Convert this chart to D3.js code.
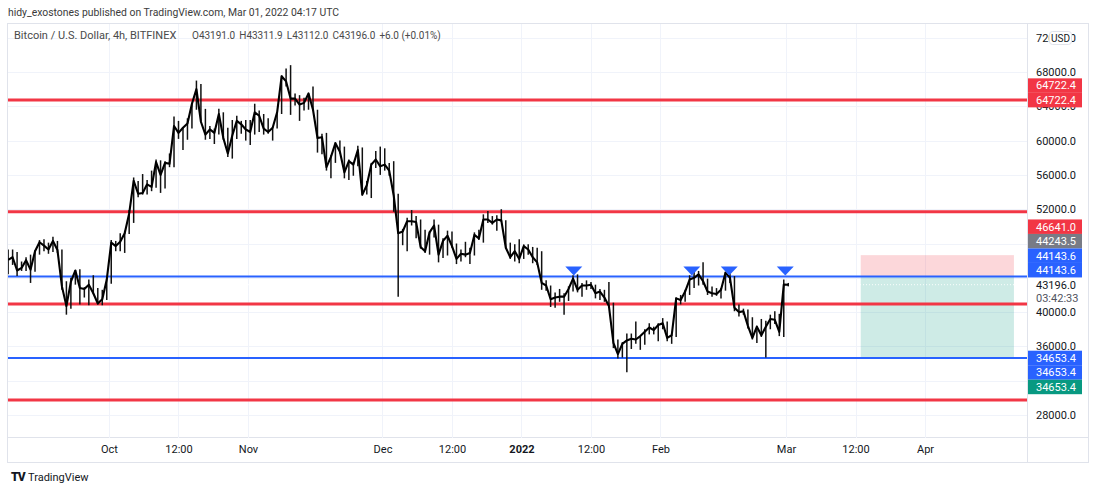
<!DOCTYPE html>
<html>
<head>
<meta charset="utf-8">
<script src="https://cdn.jsdelivr.net/npm/d3@7"></script>
<style>
body { margin: 0; background: #fff; }
text { font-family: Roboto, "Noto Sans", sans-serif; }
</style>
</head>
<body>
<div id="chart-area"></div>
<script>
var firstDay = "2021-09-08";

var dailyHigh = [
    // Sep 8 - 30
    47300,47300,47000,45900,46400,46700,47200,48400,48500,48100,48800,48300,47300,43600,44000,44900,45000,42900,43800,44300,42800,42600,44100,
    // Oct
    48400,48300,49200,49500,51900,55700,55300,56100,55400,56500,57800,57700,57600,58500,62800,62300,61600,62600,64400,67000,66600,63700,61700,61400,63700,63300,61500,62400,62900,62300,62400,
    // Nov
    62400,64300,63500,63100,62600,61600,63300,67600,68400,68800,65500,65300,65000,65500,66300,63600,60800,60900,58300,59800,60000,59300,57800,57500,59400,59200,55300,57400,58800,59300,
    // Dec
    59100,57400,57600,53800,49700,51000,51900,51200,50800,49600,49400,50800,50200,48600,49500,49400,48000,47300,48200,47500,49300,49600,51400,51800,51200,51300,52000,50700,48100,47900,48500,
    // Jan
    47900,47900,47600,47500,47100,43700,43100,42300,42700,42200,43000,44300,44400,43400,43700,43500,43200,42700,42600,43500,41100,36800,36500,37500,37500,38900,37200,38000,38700,38300,38700,
    // Feb
    39300,38900,37400,41700,42000,42600,44300,45000,44800,45800,43900,43000,42800,42800,44700,44600,44200,40900,40400,40300,39400,38400,39200,39000,39700,40100,39800,43800,
    // Mar 1
    43400
];

var dailyLow = [
    44400,45500,44200,44800,44800,43400,44700,46700,47100,46800,47000,46900,42600,39700,40400,43200,40900,41700,40800,42100,40900,40800,41400,
    43300,47100,47100,46900,49100,50400,53400,53700,53700,54100,54500,53900,54400,56900,56900,60200,58900,60100,61400,63600,62100,60100,60200,59600,60700,60100,58100,57900,60200,60800,60000,
    59500,60700,61000,60700,60800,60000,61400,63100,66300,63000,64100,62300,63500,63600,63500,58600,58400,56500,55600,57400,58500,55600,55400,55900,57000,53600,53700,53300,56800,56000,
    56500,55900,51700,41800,47800,47100,50100,48600,47400,46900,46700,48700,45800,46300,46600,47500,45600,45900,46400,45600,46600,48400,48100,50400,50200,49500,50500,47400,46200,45900,45700,
    46200,46700,45700,45500,42600,42500,40600,40500,41200,39700,41300,42400,42300,41800,42600,42700,41600,41400,41200,40600,35800,34600,34700,33000,35700,36300,35600,36200,37400,37400,36600,
    38000,36600,36300,37100,40900,41200,42000,42800,43100,43200,42000,41800,41900,41600,42500,43400,40100,39500,39700,38100,36800,36400,37100,34700,38000,38600,37200,37100,
    43000
];

var dailyClose = [
    46100,46400,44850,45150,46050,44950,47100,48150,47750,47300,48300,47250,43000,40700,43550,44850,42800,42700,43200,42200,41000,41500,43800,
    48100,47700,48200,49200,51500,55300,53800,53900,54900,54600,57500,56000,57400,57300,61700,60900,61500,62000,64300,66000,62200,60700,61300,60900,63100,60300,58500,60600,62300,61900,61300,
    61000,63300,62900,61400,61000,61500,63300,67500,66900,64900,64900,64200,64400,65500,63600,60300,60400,56900,58100,59700,58700,56300,57600,57200,58900,53700,54800,57200,57800,57000,
    57200,56500,53600,49200,49400,50600,50600,50500,47600,47100,49300,50100,46700,48300,48900,47700,46200,46800,46700,46900,49000,48600,50800,50800,50400,50800,50700,47500,46400,47100,46200,
    47700,47300,46400,45800,43400,43100,41500,41700,41800,41800,42700,43900,42600,43100,43100,43200,42200,42400,41700,40700,36400,35100,36300,36700,36900,36800,37200,37700,38200,37900,38500,
    38700,37000,37300,41600,41400,42400,43800,44000,44400,43600,42400,42200,42100,42600,44600,44000,40500,40000,40100,38400,37000,38300,37300,38300,39200,39100,37700,43200,
    43196
];

// drawn horizontal levels
var redLevels = [64722.4, 51700, 40950, 29750];
var blueLevels = [44143.6, 34653.4];

// blue down-triangle markers on the 44143.6 level
var signalDates = ["2022-01-12T16:00Z", "2022-02-08T00:00Z", "2022-02-16T08:00Z", "2022-02-28T20:00Z"];

// short position tool
var posEntry = 44143.6, posStop = 46641.0, posTarget = 34653.4;
var posStart = "2022-03-17T16:00Z", posEnd = "2022-04-20T20:00Z";
var crossPrice = 44243.5;
var countdown = "03:42:33";

// axes
var priceTicks = [28000, 32000, 36000, 40000, 44000, 48000, 52000, 56000, 60000, 64000, 68000, 72000];
var timeTicks = ["2021-10-01T00:00Z", "2021-10-16T12:00Z", "2021-11-01T00:00Z", "2021-12-01T00:00Z", "2021-12-16T12:00Z",
                 "2022-01-01T00:00Z", "2022-01-16T12:00Z", "2022-02-01T00:00Z", "2022-03-01T00:00Z", "2022-03-16T12:00Z", "2022-04-01T00:00Z"];
var timeLabels = ["Oct", "12:00", "Nov", "Dec", "12:00", "2022", "12:00", "Feb", "Mar", "12:00", "Apr"];

var headerText = "hidy_exostones published on TradingView.com, Mar 01, 2022 04:17 UTC";
var legendTitle = "Bitcoin / U.S. Dollar, 4h, BITFINEX";
var legendValues = ["O43191.0", "H43311.9", "L43112.0", "C43196.0", "+6.0 (+0.01%)"];

var RED = "#f23645", BLUE = "#2962ff", GREEN = "#089981", GREY = "#787b86";

var width = 1093, height = 492;
var plot = { left: 8, right: 1027, top: 24, bottom: 438 };

var svg = d3.select("#chart-area")
    .append("svg")
        .attr("width", width)
        .attr("height", height);

var x = d3.scaleTime()
    .domain([new Date("2021-10-01T00:00Z"), new Date("2022-04-01T00:00Z")])
    .range([109, 925]);

var y = d3.scaleLinear()
    .domain([28000, 68000])
    .range([415, 72]);

var day0 = new Date(firstDay + "T00:00Z").getTime();
var bars = dailyClose.map(function(c, i){
    return { date: new Date(day0 + (i + 0.5) * 864e5), high: dailyHigh[i], low: dailyLow[i], close: c };
});

svg.append("defs").append("clipPath").attr("id", "plot-clip")
    .append("rect")
        .attr("x", plot.left).attr("y", plot.top)
        .attr("width", plot.right - plot.left).attr("height", plot.bottom - plot.top);

// header
svg.append("text")
    .attr("x", 8).attr("y", 16)
    .attr("font-size", 10.4).attr("fill", "#3b3b3b")
    .text(headerText);

// frame
svg.append("rect")
    .attr("x", 7.5).attr("y", 23.5).attr("width", 1081).attr("height", 439)
    .attr("fill", "none").attr("stroke", "#e0e3eb");
svg.append("line")
    .attr("x1", plot.right + 0.5).attr("x2", plot.right + 0.5)
    .attr("y1", 24).attr("y2", 462).attr("stroke", "#e0e3eb");
svg.append("line")
    .attr("x1", 8).attr("x2", 1088)
    .attr("y1", plot.bottom - 0.5).attr("y2", plot.bottom - 0.5).attr("stroke", "#e0e3eb");

// grid
var grid = svg.append("g").attr("clip-path", "url(#plot-clip)");
grid.selectAll(".hgrid").data(priceTicks).enter().append("line")
    .attr("x1", plot.left).attr("x2", plot.right)
    .attr("y1", function(d){ return Math.round(y(d)) + 0.5; })
    .attr("y2", function(d){ return Math.round(y(d)) + 0.5; })
    .attr("stroke", "#f0f3fa");
grid.selectAll(".vgrid").data(timeTicks).enter().append("line")
    .attr("x1", function(d){ return Math.round(x(new Date(d))) + 0.5; })
    .attr("x2", function(d){ return Math.round(x(new Date(d))) + 0.5; })
    .attr("y1", plot.top).attr("y2", plot.bottom)
    .attr("stroke", "#f0f3fa");

var g = svg.append("g").attr("clip-path", "url(#plot-clip)");

// position boxes
var px0 = x(new Date(posStart)), px1 = x(new Date(posEnd));
g.append("rect")
    .attr("x", px0).attr("width", px1 - px0)
    .attr("y", y(posStop)).attr("height", y(posEntry) - y(posStop))
    .attr("fill", RED).attr("fill-opacity", 0.2);
g.append("rect")
    .attr("x", px0).attr("width", px1 - px0)
    .attr("y", y(posEntry)).attr("height", y(posTarget) - y(posEntry))
    .attr("fill", GREEN).attr("fill-opacity", 0.2);

// last price dotted line
var lastPrice = dailyClose[dailyClose.length - 1];
g.append("line")
    .attr("x1", plot.left).attr("x2", plot.right)
    .attr("y1", y(lastPrice)).attr("y2", y(lastPrice))
    .attr("stroke", "#ffffff").attr("stroke-dasharray", "1,2").attr("stroke-opacity", 0.9);

// horizontal levels
g.selectAll(".red-level").data(redLevels).enter().append("line")
    .attr("x1", plot.left).attr("x2", plot.right)
    .attr("y1", function(d){ return y(d); }).attr("y2", function(d){ return y(d); })
    .attr("stroke", RED).attr("stroke-width", 3);
g.selectAll(".blue-level").data(blueLevels).enter().append("line")
    .attr("x1", plot.left).attr("x2", plot.right)
    .attr("y1", function(d){ return y(d); }).attr("y2", function(d){ return y(d); })
    .attr("stroke", BLUE).attr("stroke-width", 2);

// price bars
g.selectAll(".bar").data(bars).enter().append("line")
    .attr("x1", function(d){ return x(d.date); })
    .attr("x2", function(d){ return x(d.date); })
    .attr("y1", function(d){ return y(d.high); })
    .attr("y2", function(d){ return y(d.low); })
    .attr("stroke", "#111").attr("stroke-width", 1.5);

var closeLine = d3.line()
    .x(function(d){ return x(d.date); })
    .y(function(d){ return y(d.close); });
g.append("path").datum(bars)
    .attr("d", closeLine)
    .attr("fill", "none").attr("stroke", "#000").attr("stroke-width", 2.1)
    .attr("stroke-linejoin", "round");

// signal triangles
g.selectAll(".signal").data(signalDates).enter().append("path")
    .attr("d", function(d){
        var cx = x(new Date(d)), cy = y(blueLevels[0]);
        return "M" + (cx - 8.5) + "," + (cy - 10) + "L" + (cx + 8.5) + "," + (cy - 10) + "L" + cx + "," + (cy - 1) + "Z";
    })
    .attr("fill", BLUE);

// price axis
var yAxis = svg.append("g")
    .attr("transform", "translate(" + plot.right + ",0)")
    .call(d3.axisRight(y).tickValues(priceTicks).tickFormat(d3.format(".1f")).tickSize(0).tickPadding(9));
yAxis.select(".domain").remove();
yAxis.selectAll("text").attr("font-size", 11).attr("fill", "#131722").style("font-family", "Roboto, sans-serif");

// time axis
var xAxis = svg.append("g")
    .attr("transform", "translate(0," + plot.bottom + ")")
    .call(d3.axisBottom(x).tickValues(timeTicks.map(function(d){ return new Date(d); }))
        .tickFormat(function(d, i){ return timeLabels[i]; }).tickSize(0).tickPadding(7));
xAxis.select(".domain").remove();
xAxis.selectAll("text").attr("font-size", 11).attr("fill", "#131722").style("font-family", "Roboto, sans-serif")
    .attr("font-weight", function(d, i){ return timeLabels[i] === "2022" ? "bold" : null; });

// axis price labels
var labelH = 14.5, lastY = y(lastPrice);
var axisLabels = [
    { v: redLevels[0], c: RED, at: y(redLevels[0]) - labelH },
    { v: redLevels[0], c: RED, at: y(redLevels[0]) },
    { v: posStop, c: RED, at: lastY - 4 * labelH },
    { v: crossPrice, c: GREY, at: lastY - 3 * labelH },
    { v: posEntry, c: BLUE, at: lastY - 2 * labelH },
    { v: posEntry, c: BLUE, at: lastY - labelH },
    { v: posTarget, c: BLUE, at: y(posTarget) },
    { v: posTarget, c: BLUE, at: y(posTarget) + labelH },
    { v: posTarget, c: GREEN, at: y(posTarget) + 2 * labelH }
];

// tick labels fully hidden under the price labels are dropped
var covers = axisLabels.map(function(d){ return [d.at - labelH / 2, d.at + labelH / 2]; });
covers.push([lastY - labelH / 2 - 1, lastY + 1.5 * labelH]);
yAxis.selectAll(".tick").each(function(d){
    var t = y(d), hidden = true;
    for (var k = -4; k <= 4; k++) {
        var p = t + k;
        if (!covers.some(function(c){ return p >= c[0] && p <= c[1]; })) { hidden = false; break; }
    }
    if (hidden) d3.select(this).remove();
});

svg.append("rect")
    .attr("x", plot.right + 1).attr("y", lastY - labelH / 2 - 1)
    .attr("width", 58).attr("height", 2 * labelH).attr("fill", "#fff");
svg.append("text")
    .attr("x", plot.right + 9).attr("y", lastY).attr("dy", "0.35em")
    .attr("font-size", 11).attr("fill", "#131722")
    .text(d3.format(".1f")(lastPrice));
svg.append("text")
    .attr("x", plot.right + 9).attr("y", lastY + 13).attr("dy", "0.35em")
    .attr("font-size", 11).attr("fill", "#50535e")
    .text(countdown);

var lab = svg.selectAll(".plabel").data(axisLabels).enter().append("g");
lab.append("rect")
    .attr("x", plot.right + 1).attr("y", function(d){ return d.at - labelH / 2; })
    .attr("width", 54).attr("height", labelH)
    .attr("fill", function(d){ return d.c; });
lab.append("text")
    .attr("x", plot.right + 9).attr("y", function(d){ return d.at; }).attr("dy", "0.35em")
    .attr("font-size", 11).attr("fill", "#fff")
    .text(function(d){ return d3.format(".1f")(d.v); });

// currency badge
svg.append("rect")
    .attr("x", 1049.5).attr("y", 31.5).attr("width", 22).attr("height", 13).attr("rx", 3)
    .attr("fill", "#fff").attr("stroke", "#e0e3eb");
svg.append("text")
    .attr("x", 1060.5).attr("y", 38).attr("dy", "0.35em").attr("text-anchor", "middle")
    .attr("font-size", 10).attr("fill", "#131722")
    .text("USD");

// legend
svg.append("text").attr("x", 14).attr("y", 39).attr("font-size", 11).attr("fill", "#4a4a4a").text(legendTitle);
var lx = 192;
legendValues.forEach(function(v){
    var t = svg.append("text").attr("x", lx).attr("y", 39).attr("font-size", 10).attr("fill", "#4a4a4a").text(v);
    lx += t.node().getComputedTextLength() + 4;
});

// TradingView footer
svg.append("text")
    .attr("x", 11).attr("y", 481)
    .attr("font-size", 12).attr("font-weight", 900).attr("letter-spacing", -1).attr("fill", "#131722")
    .text("TV");
svg.append("text")
    .attr("x", 28).attr("y", 481)
    .attr("font-size", 11).attr("fill", "#131722")
    .text("TradingView");
</script>
</body>
</html>
